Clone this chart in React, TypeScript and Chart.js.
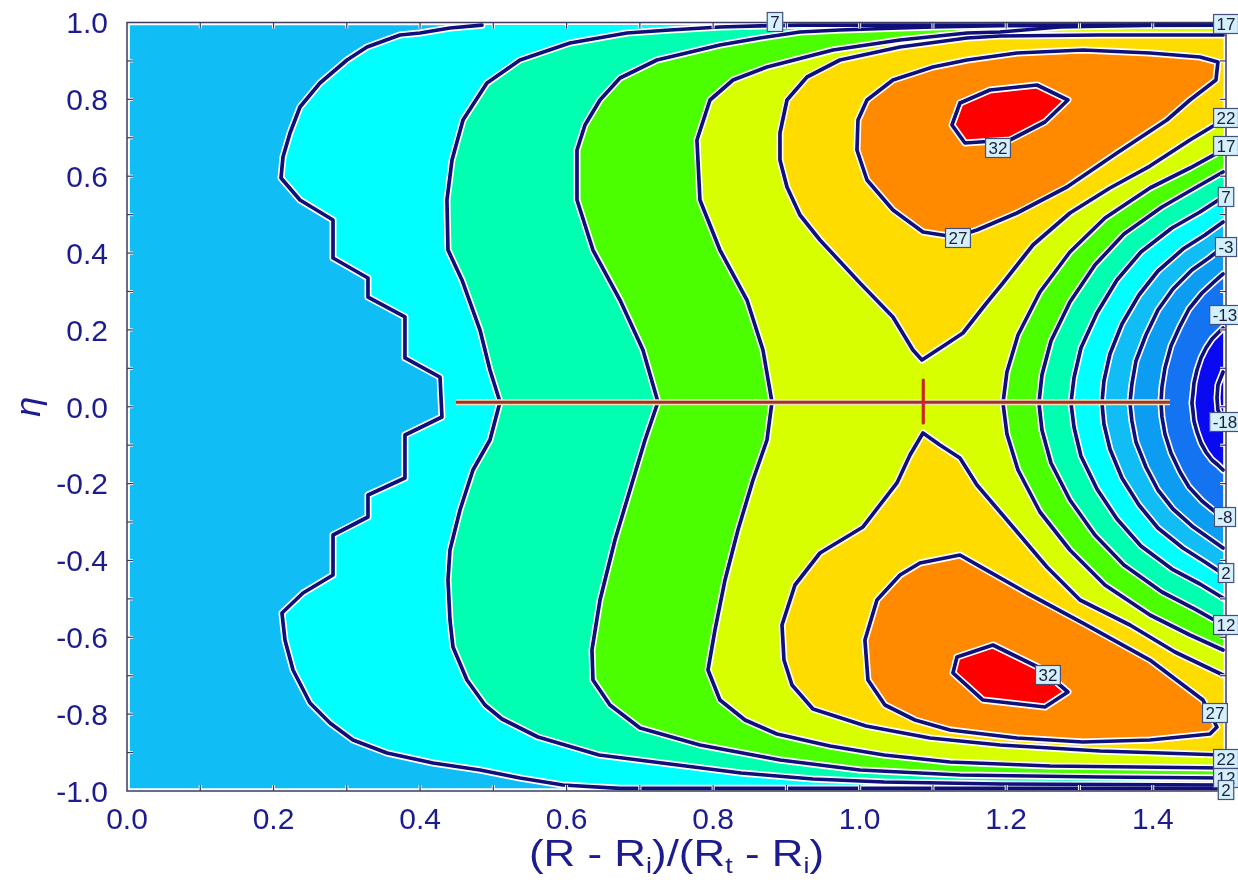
import React, { useEffect, useRef } from 'react';
import { Chart, registerables } from 'chart.js';

Chart.register(...registerables);

type Pt = [number, number];

// Contour levels and the fill colour of each band (below the first level ... above the last)
const LEVELS = [-18, -13, -8, -3, 2, 7, 12, 17, 22, 27, 32];
const BAND_COLORS = [
  '#0a00d2', '#0a0af0', '#1473f0', '#0c9cf2', '#10bef5', '#00ffff',
  '#00ffb0', '#4bff00', '#d7ff00', '#ffdc00', '#ff8a00', '#ff0000',
];

// Data domain of the field (slightly inside the axes box)
const DATA_RECT: Pt[] = [[0.004, 0.993], [1.496, 0.993], [1.496, -0.993], [0.004, -0.993]];

// Level 2, left branch: top edge -> bottom edge, then along the bottom edge
const L2: Pt[] = [
  [0.4845, 0.993], [0.4408, 0.9857], [0.3999, 0.9727], [0.3726, 0.9675], [0.3276, 0.9362],
  [0.3003, 0.9024], [0.2634, 0.8425], [0.2361, 0.7801], [0.2225, 0.7124], [0.2129, 0.65],
  [0.2102, 0.5953], [0.2361, 0.5381], [0.2812, 0.486], [0.2812, 0.3871], [0.3289, 0.3351],
  [0.3289, 0.2856], [0.3794, 0.2336], [0.3794, 0.1269], [0.4272, 0.0774], [0.4299, -0.0267],
  [0.3794, -0.0735], [0.3794, -0.1854], [0.3289, -0.2297], [0.3289, -0.2869], [0.2812, -0.3338],
  [0.2812, -0.4379], [0.2402, -0.4847], [0.2115, -0.5368], [0.2156, -0.607], [0.2266, -0.6851],
  [0.2498, -0.771], [0.2771, -0.823], [0.3084, -0.8673], [0.3549, -0.9011], [0.4176, -0.9271],
  [0.4818, -0.9453], [0.5364, -0.9662], [0.5951, -0.9844], [0.6729, -0.993], [1.496, -0.993],
];

// Level 7, left branch (runs in from the top edge, out along the bottom edge)
const L7: Pt[] = [
  [1.496, 0.993], [0.9185, 0.993], [0.8639, 0.991], [0.8093, 0.9883], [0.7411, 0.9805],
  [0.6824, 0.9727], [0.6046, 0.9466], [0.5364, 0.9024], [0.4913, 0.8425], [0.4586, 0.7463],
  [0.4436, 0.6422], [0.4367, 0.5381], [0.4381, 0.4079], [0.4572, 0.3299], [0.4818, 0.1997],
  [0.4954, 0.0956], [0.5091, 0.0124], [0.4954, -0.0865], [0.4722, -0.1646], [0.4545, -0.2687],
  [0.4408, -0.3728], [0.4381, -0.4509], [0.4408, -0.555], [0.4449, -0.6252], [0.464, -0.7111],
  [0.4886, -0.7762], [0.5118, -0.8126], [0.5609, -0.8595], [0.6442, -0.9063], [0.7411, -0.9297],
  [0.838, -0.9532], [0.9363, -0.9688], [1.0332, -0.9766], [1.1915, -0.9818], [1.496, -0.9844],
];

// Level 12, left branch
const L12: Pt[] = [
  [1.496, 0.993], [1.1915, 0.992], [1.1, 0.9883], [1.055, 0.9857], [0.9731, 0.9805],
  [0.9185, 0.9753], [0.8639, 0.9597], [0.8093, 0.9414], [0.7233, 0.9024], [0.6729, 0.8556],
  [0.6456, 0.7983], [0.6251, 0.7333], [0.6142, 0.6683], [0.6142, 0.5381], [0.636, 0.4079],
  [0.6729, 0.2778], [0.7042, 0.1477], [0.7247, 0.0124], [0.707, -0.0865], [0.6906, -0.1906],
  [0.666, -0.3468], [0.6456, -0.5029], [0.6346, -0.633], [0.636, -0.7111], [0.6592, -0.7762],
  [0.7002, -0.836], [0.782, -0.8803], [0.8912, -0.9193], [1.0004, -0.9453], [1.1369, -0.9584],
  [1.328, -0.9636], [1.496, -0.9662],
];

// Level 17, left branch
const L17: Pt[] = [
  [1.496, 0.993], [1.3962, 0.993], [1.2734, 0.9883], [1.1915, 0.9753], [1.1465, 0.9727],
  [1.055, 0.9545], [0.9636, 0.9284], [0.8735, 0.8842], [0.8271, 0.8504], [0.7957, 0.7983],
  [0.7779, 0.6942], [0.782, 0.5381], [0.8093, 0.4079], [0.8462, 0.2778], [0.868, 0.1477],
  [0.8803, 0.0124], [0.8735, -0.0865], [0.8544, -0.1906], [0.8339, -0.3208], [0.8162, -0.4509],
  [0.8025, -0.581], [0.793, -0.6851], [0.8093, -0.7632], [0.8435, -0.8152], [0.8871, -0.8517],
  [0.9595, -0.8829], [1.0332, -0.9063], [1.1232, -0.9245], [1.2597, -0.9349], [1.496, -0.9401],
];

// Right-hand arcs, from the right edge (top end) round the nose back to the right edge
const R17: Pt[] = [
  [1.496, 0.6682], [1.4508, 0.6213], [1.3962, 0.5693], [1.3348, 0.4912], [1.287, 0.4027],
  [1.2461, 0.2986], [1.2161, 0.1867], [1.201, 0.0904], [1.1956, 0.0098], [1.201, -0.0709],
  [1.2161, -0.1646], [1.2461, -0.2739], [1.287, -0.3728], [1.3348, -0.4639], [1.3962, -0.542],
  [1.4508, -0.594], [1.496, -0.633],
];
const R12: Pt[] = [
  [1.496, 0.6109], [1.4576, 0.5693], [1.4126, 0.5198], [1.3607, 0.4496], [1.3211, 0.3689],
  [1.287, 0.2726], [1.2611, 0.1711], [1.2488, 0.0826], [1.2447, 0.0098], [1.2488, -0.0605],
  [1.2611, -0.1464], [1.287, -0.2427], [1.3211, -0.3338], [1.3607, -0.4118], [1.4126, -0.4821],
  [1.4576, -0.5264], [1.496, -0.568],
];
const R7: Pt[] = [
  [1.496, 0.5459], [1.4645, 0.5068], [1.4262, 0.4652], [1.3839, 0.4027], [1.3512, 0.3299],
  [1.3239, 0.244], [1.302, 0.1529], [1.2925, 0.0748], [1.2884, 0.0098], [1.2925, -0.0527],
  [1.302, -0.1282], [1.3239, -0.2141], [1.3512, -0.2921], [1.3839, -0.3624], [1.4262, -0.4223],
  [1.4645, -0.4613], [1.496, -0.4977],
];
const R2: Pt[] = [
  [1.496, 0.4808], [1.4713, 0.447], [1.4412, 0.4105], [1.4071, 0.3533], [1.3812, 0.2908],
  [1.358, 0.2154], [1.3416, 0.1373], [1.3334, 0.067], [1.3307, 0.0098], [1.3334, -0.0449],
  [1.3416, -0.11], [1.358, -0.1854], [1.3812, -0.2557], [1.4071, -0.3156], [1.4412, -0.3676],
  [1.4713, -0.404], [1.496, -0.4353],
];
const R_M3: Pt[] = [
  [1.496, 0.4157], [1.4767, 0.3871], [1.4535, 0.3559], [1.4276, 0.3064], [1.4071, 0.2518],
  [1.3907, 0.1867], [1.3771, 0.1191], [1.3716, 0.0592], [1.3689, 0.0098], [1.3716, -0.0371],
  [1.3771, -0.0917], [1.3907, -0.1568], [1.4071, -0.2167], [1.4276, -0.2661], [1.4535, -0.3103],
  [1.4767, -0.3416], [1.496, -0.3676],
];
const R_M8: Pt[] = [
  [1.496, 0.3455], [1.4822, 0.3221], [1.4672, 0.296], [1.4494, 0.2544], [1.4372, 0.2101],
  [1.4249, 0.1581], [1.4167, 0.1008], [1.4126, 0.0514], [1.4112, 0.0098], [1.4126, -0.0267],
  [1.4167, -0.0709], [1.4249, -0.1204], [1.4372, -0.1698], [1.4494, -0.2088], [1.4672, -0.2453],
  [1.4822, -0.2687], [1.496, -0.2895],
];
const R_M13: Pt[] = [
  [1.496, 0.2049], [1.489, 0.1919], [1.4808, 0.1763], [1.4726, 0.1529], [1.4658, 0.1269],
  [1.4604, 0.0956], [1.4563, 0.0618], [1.4549, 0.0332], [1.4535, 0.0098], [1.4549, -0.0111],
  [1.4563, -0.0371], [1.4604, -0.0657], [1.4658, -0.0943], [1.4726, -0.1178], [1.4808, -0.1386],
  [1.489, -0.1516], [1.496, -0.1646],
];
const R_M18: Pt[] = [[1.496, 0.0904], [1.489, 0.0566], [1.4877, 0.0228], [1.489, -0.0085], [1.496, -0.0345]];

// Level 22: upper and lower lobes that meet at the saddle point
const C22_UP: Pt[] = [
  [1.496, 0.9675], [1.328, 0.9675], [1.1915, 0.9649], [1.1465, 0.9597], [1.055, 0.9362],
  [0.9731, 0.9024], [0.9281, 0.8582], [0.9008, 0.7983], [0.8912, 0.7124], [0.8912, 0.6422],
  [0.9008, 0.5719], [0.9185, 0.499], [0.9458, 0.434], [1.0004, 0.3221], [1.0454, 0.2336],
  [1.0727, 0.1477], [1.085, 0.1217], [1.1164, 0.1607], [1.141, 0.1919], [1.171, 0.2648],
  [1.1956, 0.3221], [1.2365, 0.421], [1.287, 0.5042], [1.3416, 0.5693], [1.3962, 0.6265],
  [1.4508, 0.6942], [1.496, 0.7463],
];
const C22_DN: Pt[] = [
  [1.496, -0.6981], [1.4303, -0.6383], [1.3689, -0.568], [1.3007, -0.5029], [1.2556, -0.417],
  [1.201, -0.2947], [1.1601, -0.2036], [1.1369, -0.1334], [1.1096, -0.0995], [1.0864, -0.0683],
  [1.0687, -0.1256], [1.0509, -0.1984], [1.0045, -0.3129], [0.9458, -0.3806], [0.9117, -0.4639],
  [0.894, -0.568], [0.8967, -0.6591], [0.9076, -0.7241], [0.9363, -0.7866], [1.0086, -0.8308],
  [1.096, -0.8621], [1.1915, -0.8803], [1.328, -0.8959], [1.496, -0.9063],
];

// Level 27 and level 32 closed loops
const C27_UP: Pt[] = [
  [1.01, 0.7983], [1.0454, 0.8504], [1.1, 0.8842], [1.1465, 0.9024], [1.2147, 0.9206],
  [1.3048, 0.9284], [1.3962, 0.9206], [1.4645, 0.9102], [1.489, 0.8972], [1.4863, 0.8504],
  [1.4508, 0.7983], [1.4194, 0.7463], [1.3512, 0.6604], [1.2829, 0.5719], [1.2147, 0.5042],
  [1.1601, 0.46], [1.1301, 0.4418], [1.0864, 0.4548], [1.0454, 0.512], [1.01, 0.5901],
  [0.9963, 0.6682], [0.9977, 0.7463],
];
const C27_DN: Pt[] = [
  [1.0823, -0.4066], [1.1369, -0.3858], [1.1683, -0.4197], [1.2283, -0.4847], [1.3048, -0.5628],
  [1.3962, -0.6591], [1.4686, -0.7632], [1.4877, -0.8335], [1.4781, -0.8517], [1.3962, -0.8673],
  [1.3048, -0.8725], [1.2147, -0.8621], [1.1232, -0.8413], [1.0755, -0.8152], [1.0345, -0.7762],
  [1.0113, -0.7111], [1.0072, -0.607], [1.0236, -0.5029], [1.055, -0.4379],
];
const C32_UP: Pt[] = [
  [1.1369, 0.7905], [1.1778, 0.8243], [1.242, 0.8373], [1.2843, 0.7983], [1.2529, 0.7411],
  [1.2051, 0.6942], [1.1437, 0.6864], [1.126, 0.7333],
];
const C32_DN: Pt[] = [
  [1.1328, -0.6513], [1.1819, -0.62], [1.2461, -0.6799], [1.2843, -0.7424], [1.2529, -0.7814],
  [1.1683, -0.7632], [1.1273, -0.6929],
];

// Cut along the mid-plane and the saddle marker
const CUT_LINE: Pt[] = [[0.449, 0.012], [1.4235, 0.012]];
const SADDLE_MARK: Pt[] = [[1.0868, 0.0696], [1.0868, -0.0423]];

// Contour value labels
const LABEL_TEXT = ['7', '17', '32', '22', '17', '7', '-3', '27', '-13', '-18', '-8', '2', '12', '32', '27', '22', '12', '2'];
const LABEL_X = [0.8844, 1.5, 1.1888, 1.5, 1.5, 1.5, 1.5, 1.1342, 1.4986, 1.4986, 1.4986, 1.5, 1.5, 1.257, 1.4849, 1.5, 1.5, 1.5];
const LABEL_Y = [1.0013, 0.9961, 0.6734, 0.7515, 0.6786, 0.5459, 0.4157, 0.4392, 0.2388, -0.0397, -0.2869, -0.4327, -0.568, -0.6981, -0.797, -0.9167, -0.9662, -0.9974];

// Axes
const X_TICK_VALUES = [0, 0.2, 0.4, 0.6, 0.8, 1.0, 1.2, 1.4];
const X_TICK_LABELS = ['0.0', '0.2', '0.4', '0.6', '0.8', '1.0', '1.2', '1.4'];
const Y_TICK_VALUES = [-1, -0.8, -0.6, -0.4, -0.2, 0, 0.2, 0.4, 0.6, 0.8, 1.0];
const Y_TICK_LABELS = ['-1.0', '-0.8', '-0.6', '-0.4', '-0.2', '0.0', '0.2', '0.4', '0.6', '0.8', '1.0'];
const X_MARKS = [0.1, 0.2, 0.3, 0.4, 0.5, 0.6, 0.7, 0.8, 0.9, 1.0, 1.1, 1.2, 1.3, 1.4];
const Y_MARKS = [-0.9, -0.8, -0.7, -0.6, -0.5, -0.4, -0.3, -0.2, -0.1, 0, 0.1, 0.2, 0.3, 0.4, 0.5, 0.6, 0.7, 0.8, 0.9];
const X_TITLE: [string, boolean][] = [['(R - R', false], ['i', true], [')/(R', false], ['t', true], [' - R', false], ['i', true], [')', false]];
const Y_TITLE = 'η';

const FAMILY = "'Liberation Sans', Arial, Helvetica, sans-serif";
const AXIS_TEXT = '#1c1c8e';
const LINE_NAVY = '#10107a';

const toXY = (pts: Pt[]) => pts.map(([x, y]) => ({ x, y }));
const rev = (pts: Pt[]) => [...pts].reverse();
const closed = (pts: Pt[]) => [...pts, pts[0]];
const band = (level: number, above: boolean) => BAND_COLORS[LEVELS.indexOf(level) + (above ? 1 : 0)];

function buildDatasets() {
  const fills: { pts: Pt[]; color: string }[] = [
    { pts: DATA_RECT, color: band(-3, true) },
    { pts: [...L2, ...rev(R2), [1.496, 0.993]], color: band(2, true) },
    { pts: [...L7, ...rev(R7)], color: band(7, true) },
    { pts: [...L12, ...rev(R12)], color: band(12, true) },
    { pts: [...L17, ...rev(R17)], color: band(17, true) },
    { pts: C22_UP, color: band(22, true) },
    { pts: C22_DN, color: band(22, true) },
    { pts: C27_UP, color: band(27, true) },
    { pts: C27_DN, color: band(27, true) },
    { pts: C32_UP, color: band(32, true) },
    { pts: C32_DN, color: band(32, true) },
    { pts: R_M3, color: band(-3, false) },
    { pts: R_M8, color: band(-8, false) },
    { pts: R_M13, color: band(-13, false) },
    { pts: R_M18, color: band(-18, false) },
  ];
  const contours: Pt[][] = [
    L2, R2, L7, R7, L12, R12, L17, R17, C22_UP, C22_DN,
    closed(C27_UP), closed(C27_DN), closed(C32_UP), closed(C32_DN),
    R_M3, R_M8, R_M13, R_M18,
  ];
  const list: any[] = [];
  fills.forEach((f) =>
    list.push({
      data: toXY(f.pts), fill: 'shape', backgroundColor: f.color,
      borderWidth: 0, borderColor: 'rgba(0,0,0,0)', pointRadius: 0,
    })
  );
  const stroke = (pts: Pt[], color: string, width: number, cap = 'round') => ({
    data: toXY(pts), fill: false, borderColor: color, borderWidth: width, pointRadius: 0,
    borderJoinStyle: 'round', borderCapStyle: cap,
  });
  contours.forEach((c) => list.push(stroke(c, '#ffffff', 7)));
  contours.forEach((c) => list.push(stroke(c, LINE_NAVY, 3.7)));
  list.push(stroke(CUT_LINE, '#f6e2b8', 6, 'butt'));
  list.push(stroke(CUT_LINE, '#a0322a', 3, 'butt'));
  list.push(stroke(SADDLE_MARK, '#c8281e', 3.2, 'butt'));
  const n = list.length;
  list.forEach((d, i) => { d.order = n - i; });
  return list;
}

const framePlugin = {
  id: 'frame',
  afterDraw(chart: any) {
    const { ctx, chartArea: a, scales } = chart;
    const xs = scales.x;
    const ys = scales.y;
    ctx.save();
    // inward tick marks on all four sides
    const tl = 6;
    const mark = (x1: number, y1: number, x2: number, y2: number) => {
      ctx.strokeStyle = '#ffffff';
      ctx.lineWidth = 3;
      ctx.beginPath(); ctx.moveTo(x1, y1); ctx.lineTo(x2, y2); ctx.stroke();
      ctx.strokeStyle = '#3a3a60';
      ctx.lineWidth = 1.2;
      ctx.beginPath(); ctx.moveTo(x1, y1); ctx.lineTo(x2, y2); ctx.stroke();
    };
    X_MARKS.forEach((v) => {
      const px = xs.getPixelForValue(v);
      mark(px, a.bottom, px, a.bottom - tl);
      mark(px, a.top, px, a.top + tl);
    });
    Y_MARKS.forEach((v) => {
      const py = ys.getPixelForValue(v);
      mark(a.left, py, a.left + tl, py);
      mark(a.right, py, a.right - tl, py);
    });
    // axes box
    ctx.strokeStyle = '#3c3c5e';
    ctx.lineWidth = 1.5;
    ctx.strokeRect(a.left, a.top, a.right - a.left, a.bottom - a.top);

    // contour labels
    ctx.font = `17px ${FAMILY}`;
    ctx.textAlign = 'center';
    ctx.textBaseline = 'alphabetic';
    LABEL_TEXT.forEach((t, i) => {
      const px = xs.getPixelForValue(LABEL_X[i]);
      const py = ys.getPixelForValue(LABEL_Y[i]);
      const w = ctx.measureText(t).width + 7;
      const h = 20;
      ctx.fillStyle = '#d4f0fc';
      ctx.fillRect(px - w / 2, py - h / 2, w, h);
      ctx.strokeStyle = '#44507a';
      ctx.lineWidth = 1.2;
      ctx.strokeRect(px - w / 2 + 0.5, py - h / 2 + 0.5, w - 1, h - 1);
      ctx.fillStyle = '#1e1e3c';
      ctx.fillText(t, px, py + 6);
    });

    // tick labels
    const tsize = 30;
    ctx.font = `${tsize}px ${FAMILY}`;
    ctx.fillStyle = AXIS_TEXT;
    ctx.textAlign = 'right';
    Y_TICK_VALUES.forEach((v, i) => {
      const py = ys.getPixelForValue(v);
      ctx.fillText(Y_TICK_LABELS[i], a.left - 19, py + tsize * 0.36);
    });
    ctx.textAlign = 'center';
    X_TICK_VALUES.forEach((v, i) => {
      const px = xs.getPixelForValue(v);
      ctx.fillText(X_TICK_LABELS[i], px, a.bottom + 27 + tsize * 0.36);
    });

    // x axis title with subscripts
    const size = 36;
    const subSize = Math.round(size * 0.62);
    const stretch = 1.22;
    let total = 0;
    X_TITLE.forEach(([t, sub]) => {
      ctx.font = `${sub ? subSize : size}px ${FAMILY}`;
      total += ctx.measureText(t).width;
    });
    const cx = (a.left + a.right) / 2;
    const base = 866;
    ctx.save();
    ctx.translate(cx, base);
    ctx.scale(stretch, 1);
    ctx.textAlign = 'left';
    let x = -total / 2;
    X_TITLE.forEach(([t, sub]) => {
      ctx.font = `${sub ? subSize : size}px ${FAMILY}`;
      ctx.fillText(t, x, sub ? size * 0.2 : 0);
      x += ctx.measureText(t).width;
    });
    ctx.restore();

    // y axis title
    ctx.save();
    ctx.translate(30, (a.top + a.bottom) / 2);
    ctx.rotate(-Math.PI / 2);
    ctx.font = `italic 36px ${FAMILY}`;
    ctx.textAlign = 'center';
    ctx.textBaseline = 'middle';
    ctx.fillText(Y_TITLE, 0, 0);
    ctx.restore();

    ctx.restore();
  },
};

export default function App() {
  const ref = useRef<HTMLCanvasElement>(null);
  useEffect(() => {
    const canvas = ref.current;
    if (!canvas) return;
    const chart = new Chart(canvas, {
      type: 'line',
      data: { datasets: buildDatasets() },
      options: {
        animation: false,
        responsive: false,
        devicePixelRatio: 1,
        events: [],
        layout: { padding: { left: 127, top: 22.5, right: 12, bottom: 96 } },
        scales: {
          x: { type: 'linear', min: 0, max: 1.5, display: false },
          y: { type: 'linear', min: -1, max: 1, display: false },
        },
        plugins: { legend: { display: false }, tooltip: { enabled: false }, title: { display: false } },
        elements: { line: { tension: 0 }, point: { radius: 0 } },
      } as any,
      plugins: [framePlugin],
    });
    return () => chart.destroy();
  }, []);
  return (
    <div style={{ position: 'fixed', left: 0, top: 0, width: 1238, height: 887, background: '#ffffff' }}>
      <canvas ref={ref} width={1238} height={887} style={{ display: 'block', width: 1238, height: 887 }} />
    </div>
  );
}
